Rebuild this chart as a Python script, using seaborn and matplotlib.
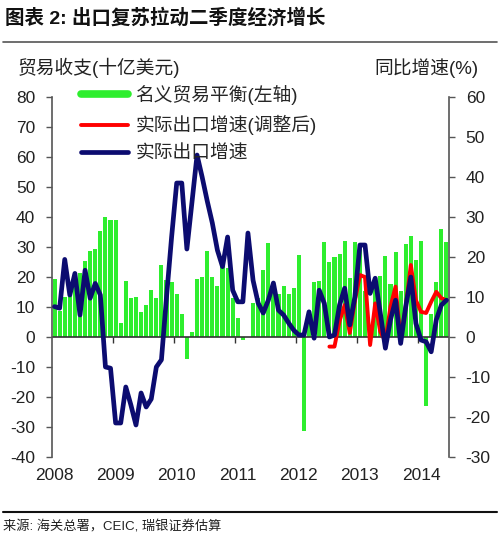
import numpy as np
import matplotlib
matplotlib.use("Agg")
import matplotlib.pyplot as plt
import seaborn as sns
from matplotlib.lines import Line2D

# monthly data, Jan 2008 - Jun 2014
years = [2008, 2009, 2010, 2011, 2012, 2013, 2014]

# 名义贸易平衡 (十亿美元)
trade_balance = [
    19.3, 8.6, 13.4, 16.7, 20.2, 21.4, 25.3, 28.7, 29.3, 35.2, 40.1, 39.0,
    39.1, 4.8, 18.6, 13.1, 13.4, 8.3, 10.6, 15.7, 12.9, 24.0, 19.1, 18.4,
    14.2, 7.6, -7.2, 1.7, 19.5, 20.0, 28.7, 20.0, 16.9, 27.1, 22.9, 13.1,
    6.5, -0.9, 0.1, 11.4, 13.1, 22.3, 31.5, 17.8, 14.5, 17.0, 14.5, 16.5,
    27.3, -31.5, 5.3, 18.4, 18.7, 31.7, 25.1, 26.7, 27.7, 32.0, 19.6, 31.6,
    29.2, 15.2, -0.9, 18.2, 20.4, 27.1, 17.8, 28.5, 15.2, 31.1, 33.8, 25.6,
    31.9, -23.0, 7.7, 18.5, 35.9, 31.6,
]

# 实际出口增速 (%)
real_export = [
    7.6, 7.2, 19.4, 10.5, 15.9, 5.5, 16.7, 9.7, 13.4, 10.5, -7.5, -7.8,
    -21.5, -21.5, -12.5, -17.0, -22.0, -14.0, -17.5, -15.5, -7.5, -5.7, 10.0, 25.0,
    38.5, 38.5, 22.0, 33.7, 45.5, 40.0, 34.0, 28.5, 21.7, 17.6, 25.0, 11.7,
    8.8, 8.8, 26.0, 14.2, 8.5, 6.0, 9.2, 13.5, 6.7, 5.5, 3.5, 1.7,
    0.5, 0.5, 6.3, -0.3, 11.7, 8.4, 0.0, 0.5, 8.0, 12.2, 3.0, 10.0,
    23.0, 23.0, 10.9, 14.7, 6.0, -2.8, 4.3, 9.2, -1.6, 7.6, 15.0, 3.4,
    -0.75, -1.2, -3.7, 4.3, 8.0, 9.2,
]

# 实际出口增速(调整后), from Jul 2012
real_export_adj = [
    -2.4, -2.4, 4.0, 8.0, 1.0, 9.0,
    15.5, 15.0, -2.0, 8.4, 1.3, -1.0, 7.6, 12.6, -0.75, 7.6, 18.0, 9.2,
    6.3, 6.0, 8.8, 11.3, 9.7, 9.2,
]
adj_start = 54

green = "#2eee2e"
red = "#ff0000"
navy = "#0c0c70"
grey = "#555555"

sns.set_style("white")
plt.rcParams["font.family"] = ["Liberation Sans", "Noto Sans CJK SC"]
plt.rcParams["axes.unicode_minus"] = False

months = np.arange(len(trade_balance))

fig = plt.figure(figsize=(5.0, 5.38), dpi=100)
ax = fig.add_axes([0.104, 0.1506, 0.794, 0.669])
ax2 = ax.twinx()

# bars - left axis
sns.barplot(x=months, y=trade_balance, ax=ax, color=green, saturation=1,
            width=0.8, linewidth=0, native_scale=True)
ax.axhline(0, color="#333333", lw=1.2, zorder=2)

# lines - right axis
sns.lineplot(x=months[adj_start:], y=real_export_adj, ax=ax2, color=red,
             lw=2.8, zorder=2, solid_joinstyle="round")
sns.lineplot(x=months, y=real_export, ax=ax2, color=navy, lw=3.4, zorder=3,
             solid_joinstyle="round")

ax.set_xlim(-0.5, len(months) - 0.5)
ax.set_ylim(-40, 80)
ax.set_yticks(range(-40, 81, 10))
ax2.set_ylim(-30, 60)
ax2.set_yticks(range(-30, 61, 10))

ax.set_xticks(range(0, len(months), 12), labels=[str(y) for y in years])
ax.tick_params(axis="x", length=0, pad=8, labelsize=12.5, colors="#222222")
ax.tick_params(axis="y", length=4, width=1, color=grey, pad=8,
               labelsize=12.5, labelcolor="#222222")
ax2.tick_params(axis="y", length=4, width=1, color=grey, pad=8,
                labelsize=12.5, labelcolor="#222222")
for a in (ax, ax2):
    a.set_xlabel("")
    a.set_ylabel("")
    for s in ("top", "bottom"):
        a.spines[s].set_visible(False)
ax.spines["right"].set_visible(False)
ax2.spines["left"].set_visible(False)
ax.spines["left"].set_color(grey)
ax2.spines["right"].set_color(grey)
ax.spines["left"].set_linewidth(1.2)
ax2.spines["right"].set_linewidth(1.2)

# year boundary ticks on the zero line
sec = ax.secondary_xaxis(40 / 120)
sec.xaxis.set_ticks_position("bottom")
sec.set_xticks(np.arange(11.5, len(months), 12))
sec.set_xticklabels([])
sec.tick_params(length=4, width=1, color="#333333", direction="out")
sec.spines["bottom"].set_visible(False)
sec.spines["top"].set_visible(False)

handles = [
    Line2D([], [], color=green, lw=5.5),
    Line2D([], [], color=red, lw=2.8),
    Line2D([], [], color=navy, lw=3.4),
]
labels = ["名义贸易平衡(左轴)", "实际出口增速(调整后)", "实际出口增速"]
ax2.legend(handles, labels, loc="upper left", bbox_to_anchor=(0.162, 0.842),
           bbox_transform=fig.transFigure, frameon=False, handlelength=2.5,
           handletextpad=0.4, labelspacing=0.55, borderpad=0,
           borderaxespad=0, prop={"size": 13.5})

fig.text(0.01, 1 - 18 / 538, "图表 2: 出口复苏拉动二季度经济增长",
         fontsize=14, fontweight="bold", ha="left", va="center", color="#111111")
fig.add_artist(Line2D([0.006, 0.994], [1 - 42 / 538] * 2,
                      transform=fig.transFigure, color="#555555", lw=1.2))
fig.text(18 / 500, 1 - 68 / 538, "贸易收支(十亿美元)", fontsize=13.5,
         ha="left", va="center", color="#222222")
fig.text(478 / 500, 1 - 68 / 538, "同比增速(%)", fontsize=13.5,
         ha="right", va="center", color="#222222")
fig.add_artist(Line2D([0.006, 0.994], [1 - 512 / 538] * 2,
                      transform=fig.transFigure, color="#111111", lw=1.5))
fig.text(3 / 500, 1 - 527 / 538, "来源: 海关总署，CEIC, 瑞银证券估算",
         fontsize=9.5, ha="left", va="center", color="#222222")

fig.savefig("out.png", dpi=100)
